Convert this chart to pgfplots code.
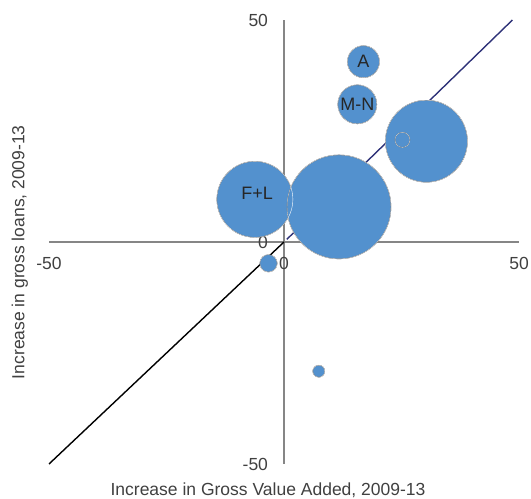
\documentclass[border=0pt]{standalone}
\usepackage{pgfplots}
\pgfplotsset{compat=1.18}
\usepackage{fontspec}
\setmainfont{Liberation Sans}
\usepackage{pgfplotstable}
\definecolor{bubble}{RGB}{83,145,206}
\definecolor{navyline}{RGB}{46,50,120}
\definecolor{axgray}{RGB}{134,134,134}
\definecolor{txt}{RGB}{64,64,64}
\definecolor{txtdark}{RGB}{38,38,38}
\pgfplotstableread{
x y r
-6.2 9.6 38
11.7 7.9 52
30.3 22.7 41
25.2 23.0 7.5
16.9 40.6 16
15.6 31.0 19.5
-3.3 -4.8 8.7
7.4 -29.1 6
}\bubbles
\begin{document}
\fontsize{17.5bp}{21bp}\selectfont
\begin{tikzpicture}[x=1bp,y=1bp]
\useasboundingbox (0,0) rectangle (531,499);
\begin{axis}[
  at={(49bp,35bp)}, anchor=south west,
  scale only axis, width=470bp, height=444bp,
  xmin=-50, xmax=50, ymin=-50, ymax=50,
  axis lines=middle,
  axis line style={axgray, line width=1.5bp, -},
  xtick={-50,0,50}, ytick={-50,0,50},
  hide obscured x ticks=false, hide obscured y ticks=false,
  major tick length=0pt,
  tick label style={font=\fontsize{17.5bp}{21bp}\selectfont, text=txt},
  /pgf/number format/assume math mode=true,
  xticklabel style={anchor=north, yshift=-9bp},
  yticklabel style={anchor=east, xshift=-10bp},
  xlabel={Increase in Gross Value Added, 2009-13},
  ylabel={Increase in gross loans, 2009-13},
  every axis x label/.style={at={(axis description cs:0.466,0)}, anchor=center, yshift=-26bp, text=txt, font=\fontsize{17.5bp}{21bp}\selectfont},
  every axis y label/.style={at={(axis description cs:-0.062,0.477)}, anchor=center, rotate=90, text=txt, font=\fontsize{17.5bp}{21bp}\selectfont},
  clip=false,
]
% fills
\addplot[scatter, only marks, mark=*,
  point meta=\thisrow{r},
  scatter/use mapped color={draw=none, fill=bubble},
  visualization depends on={\thisrow{r} \as \rad},
  scatter/@pre marker code/.append style={/tikz/mark size=\rad bp},
] table {\bubbles};
% white outlines
\addplot[scatter, only marks, mark=o,
  point meta=\thisrow{r},
  scatter/use mapped color={draw=white, fill=none},
  visualization depends on={\thisrow{r} \as \rad},
  scatter/@pre marker code/.append style={/tikz/mark size=\rad bp, /tikz/line width=1.2bp},
] table {\bubbles};
\addplot[black, line width=1.4bp] coordinates {(-50,-50) (0,0)};
\addplot[navyline, line width=1.4bp] coordinates {(0.6,0.6) (48.6,50)};
\addplot[only marks, mark=none, nodes near coords, point meta=explicit symbolic,
  nodes near coords style={anchor=center, text=txtdark, font=\fontsize{18bp}{21bp}\selectfont}]
  table[meta=label] {
x y label
16.9 40.6 A
15.6 31.0 M-N
-5.7 11.0 F+L
};
\end{axis}
\end{tikzpicture}
\end{document}
